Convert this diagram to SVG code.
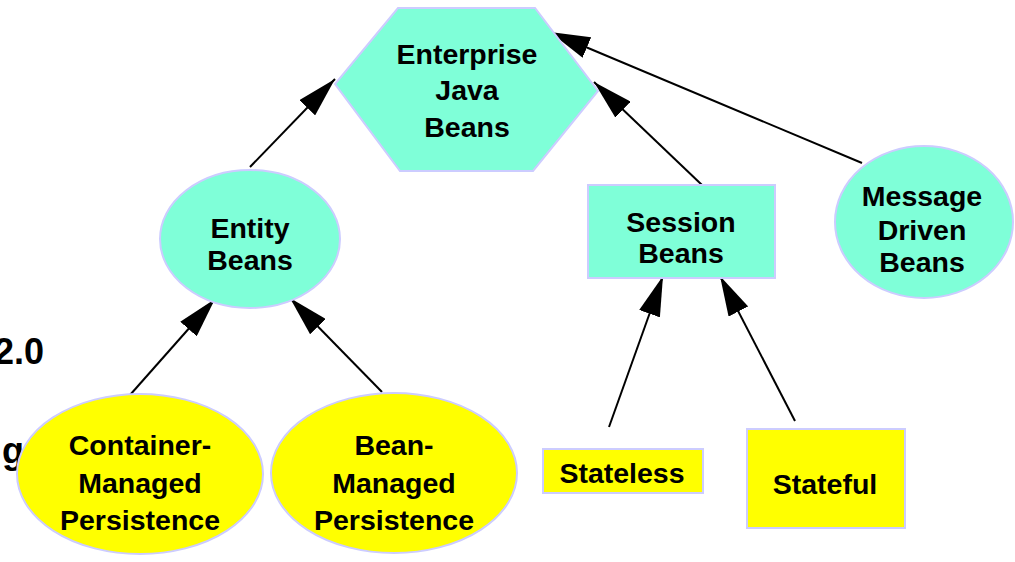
<svg xmlns="http://www.w3.org/2000/svg" width="1015" height="562" viewBox="0 0 1015 562">
<style>
.t{font-family:"Liberation Sans",Arial,sans-serif;font-weight:bold;font-size:28.5px;fill:#000;text-anchor:middle}
.bg{font-family:"Liberation Sans",Arial,sans-serif;font-weight:bold;font-size:36px;fill:#000;text-anchor:end}
.teal{fill:#7fffd8;stroke:#ccccff;stroke-width:2}
.yel{fill:#ffff00;stroke:#ccccff;stroke-width:2}
.c{stroke:#000;stroke-width:2;fill:none;marker-end:url(#ah)}
</style>
<defs>
<marker id="ah" viewBox="0 -11 40 22" refX="40" refY="0" markerWidth="40" markerHeight="22" markerUnits="userSpaceOnUse" orient="auto">
<path d="M0,-11 L40,0 L0,11 z" fill="#000"/>
</marker>
</defs>
<rect width="1015" height="562" fill="#fff"/>
<g id="bg-text">
<text class="bg" x="44" y="364">2.0</text>
<text class="bg" x="24" y="463">g</text>
</g>
<g id="connectors">
<line class="c" x1="250" y1="167" x2="335" y2="79"/>
<line class="c" x1="702" y1="185" x2="594" y2="82"/>
<line class="c" x1="862" y1="163" x2="550" y2="32"/>
<line class="c" x1="130" y1="395" x2="215" y2="299"/>
<line class="c" x1="382" y1="392" x2="290" y2="298"/>
<line class="c" x1="609" y1="427" x2="663" y2="276"/>
<line class="c" x1="795" y1="421" x2="720" y2="276"/>
</g>
<g id="enterprise">
<polygon class="teal" points="398,8 535,8 598,91 533,171 400,171 335,84"/>
<text class="t" x="467" y="64">Enterprise</text>
<text class="t" x="467" y="100">Java</text>
<text class="t" x="467" y="137">Beans</text>
</g>
<g id="entity">
<ellipse class="teal" cx="250" cy="239" rx="90" ry="69"/>
<text class="t" x="250" y="238">Entity</text>
<text class="t" x="250" y="270">Beans</text>
</g>
<g id="session">
<rect class="teal" x="588" y="185" width="187" height="93"/>
<text class="t" x="681" y="232">Session</text>
<text class="t" x="681" y="263">Beans</text>
</g>
<g id="message">
<ellipse class="teal" cx="924" cy="222" rx="89" ry="76"/>
<text class="t" x="922" y="206">Message</text>
<text class="t" x="922" y="240">Driven</text>
<text class="t" x="922" y="272">Beans</text>
</g>
<g id="cmp">
<ellipse class="yel" cx="140" cy="474" rx="123" ry="80"/>
<text class="t" x="140" y="455">Container-</text>
<text class="t" x="140" y="493">Managed</text>
<text class="t" x="140" y="530">Persistence</text>
</g>
<g id="bmp">
<ellipse class="yel" cx="394" cy="473" rx="123" ry="80"/>
<text class="t" x="394" y="455">Bean-</text>
<text class="t" x="394" y="493">Managed</text>
<text class="t" x="394" y="530">Persistence</text>
</g>
<g id="stateless">
<rect class="yel" x="543" y="449" width="160" height="44"/>
<text class="t" x="622" y="483">Stateless</text>
</g>
<g id="stateful">
<rect class="yel" x="747" y="429" width="158" height="99"/>
<text class="t" x="825" y="494">Stateful</text>
</g>
</svg>
